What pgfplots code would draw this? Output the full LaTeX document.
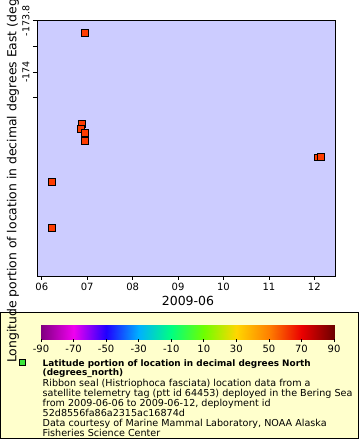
\documentclass[border=0pt]{standalone}
\usepackage{fontspec}
\setmainfont{DejaVu Sans}
\usepackage{pgfplots}
\pgfplotsset{compat=1.18}
\pgfplotsset{/pgf/number format/assume math mode=true}
\definecolor{bgblue}{RGB}{204,204,255}
\definecolor{legfill}{RGB}{255,255,204}
\definecolor{mk}{RGB}{255,60,0}
\definecolor{leggreen}{RGB}{60,230,60}
\pgfplotstableread{
x y
6.950 -173.847
6.877 -174.203
6.855 -174.221
6.950 -174.237
6.950 -174.268
6.218 -174.429
6.218 -174.608
12.077 -174.333
12.151 -174.330
}\seal
\begin{document}
\begin{tikzpicture}[x=1pt,y=1pt]
\path[use as bounding box] (0,0) rectangle (360,440);
% legend box
\draw[fill=legfill, line width=0.8pt] (0.6,2) rectangle (358,128);
\begin{axis}[
  at={(37pt,164pt)}, anchor=south west,
  scale only axis, width=298pt, height=255.3pt,
  xmin=5.895, xmax=12.455, ymin=-174.795, ymax=-173.8,
  axis background/.style={fill=bgblue},
  axis line style={line width=0.8pt},
  xtick={6,7,8,9,10,11,12},
  xticklabels={06,07,08,09,10,11,12},
  ytick={-173.8,-174}, yticklabels={-173.8,-174},
  minor ytick={-173.9,-174.1},
  xtick pos=bottom, ytick pos=left,
  tick align=outside,
  major tick length=4pt, minor tick length=4pt,
  tick style={line width=0.6pt, black},
  xticklabel style={font=\fontsize{10}{12}\selectfont},
  yticklabel style={font=\fontsize{9.5}{11}\selectfont, rotate=90, anchor=south},
]
\addplot[only marks, mark=square*, mark size=3.4pt, mark options={fill=mk, draw=black, line width=0.8pt}] table[x=x,y=y] {\seal};
\end{axis}
% colour bar
\begin{axis}[
  at={(41pt,101pt)}, anchor=south west,
  scale only axis, width=293pt, height=14.5pt,
  xmin=-90, xmax=90, ymin=0, ymax=1,
  xtick={-90,-70,...,90}, ytick=\empty,
  axis line style={draw=none},
  xtick pos=bottom, tick align=outside, major tick length=3pt,
  tick style={black, line width=0.6pt},
  xticklabel style={font=\fontsize{10}{12}\selectfont},
  colormap={erd}{rgb255(0)=(128,0,128); rgb255(1)=(240,0,240); rgb255(2)=(32,0,255); rgb255(3)=(0,176,255); rgb255(4)=(0,255,128); rgb255(5)=(110,255,0); rgb255(6)=(255,215,0); rgb255(7)=(255,128,0); rgb255(8)=(235,0,0); rgb255(9)=(110,0,0)},
  point meta min=-90, point meta max=90,
  axis on top,
]
\addplot[surf, shader=interp, point meta=x, mesh/rows=2] coordinates {
(-90,0) (90,0)

(-90,1) (90,1)
};
\end{axis}
% x label
\node[anchor=base, font=\fontsize{12.5}{14}\selectfont, inner sep=0] at (188,134.3) {2009-06};
% y label
\node[anchor=base west, rotate=90, font=\fontsize{12.4}{14}\selectfont, inner sep=0] at (16.5,77) {Longitude portion of location in decimal degrees East (degrees\_east)};
% legend sample
\draw[fill=leggreen, line width=0.8pt] (19,74.5) rectangle (25,80.5);
% legend text
\node[anchor=north west, align=left, inner sep=0, font=\fontsize{9.6}{9.15}\selectfont] at (42.5,80.5) {{\fontsize{8.9}{9.15}\selectfont\bfseries Latitude portion of location in decimal degrees North}\\{\fontsize{8.9}{9.15}\selectfont\bfseries (degrees\_north)}\\Ribbon seal (Histriophoca fasciata) location data from a\\satellite telemetry tag (ptt id 64453) deployed in the Bering Sea\\from 2009-06-06 to 2009-06-12, deployment id\\52d8556fa86a2315ac16874d\\Data courtesy of Marine Mammal Laboratory, NOAA Alaska\\Fisheries Science Center};
\end{tikzpicture}
\end{document}
